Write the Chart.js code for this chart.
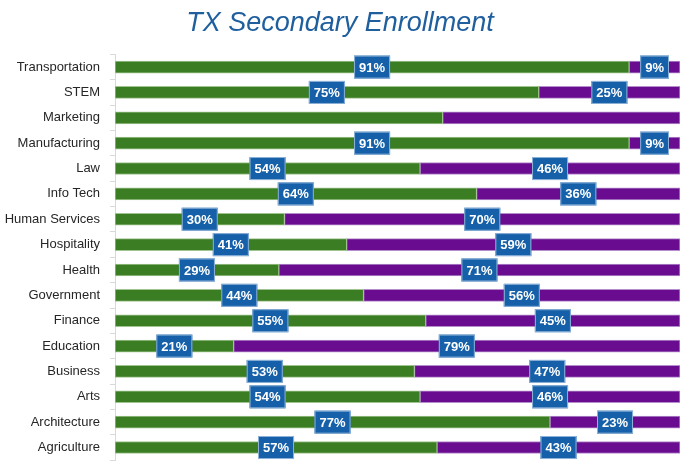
<!DOCTYPE html>
<html>
<head>
<meta charset="utf-8">
<script src="https://cdn.jsdelivr.net/npm/chart.js@4"></script>
<style>
  html, body { margin: 0; padding: 0; background: #fff; }
  #wrap { width: 680px; height: 461px; overflow: hidden; }
  canvas { display: block; }
</style>
</head>
<body>
<div id="wrap"><canvas id="enrollChart" width="680" height="478"></canvas></div>
<script>
const categories = ["Transportation", "STEM", "Marketing", "Manufacturing", "Law", "Info Tech",
    "Human Services", "Hospitality", "Health", "Government", "Finance", "Education",
    "Business", "Arts", "Architecture", "Agriculture"];
const greenValues = [91, 75, 58, 91, 54, 64, 30, 41, 29, 44, 55, 21, 53, 54, 77, 57];
const purpleValues = [9, 25, 42, 9, 46, 36, 70, 59, 71, 56, 45, 79, 47, 46, 23, 43];
const unlabeled = ["Marketing"];

/* ---------- Boxed value labels ---------- */
const boxLabels = {
    id: "boxLabels",
    afterDatasetsDraw(chart) {
        const ctx = chart.ctx;
        ctx.save();
        ctx.font = "bold 13px 'Liberation Sans', Arial, sans-serif";
        ctx.textAlign = "center";
        ctx.textBaseline = "middle";
        chart.data.datasets.forEach((ds, di) => {
            const meta = chart.getDatasetMeta(di);
            meta.data.forEach((bar, i) => {
                if (unlabeled.includes(categories[i])) return;
                const text = ds.data[i] + "%";
                const cx = (bar.x + bar.base) / 2;
                const cy = bar.y;
                const w = ctx.measureText(text).width + 10;
                const h = 23;
                ctx.fillStyle = "#1560a8";
                ctx.fillRect(cx - w / 2, cy - h / 2, w, h);
                ctx.strokeStyle = "#8fb3d9";
                ctx.lineWidth = 1;
                ctx.strokeRect(cx - w / 2 + 0.5, cy - h / 2 + 0.5, w - 1, h - 1);
                ctx.fillStyle = "#ffffff";
                ctx.fillText(text, cx, cy + 1);
            });
        });
        ctx.restore();
    }
};

new Chart(document.getElementById("enrollChart"), {
    type: "bar",
    data: {
        labels: categories,
        datasets: [{
            label: "Green",
            data: greenValues,
            backgroundColor: "#3b7d23",
            borderColor: "#9fc48f",
            borderWidth: 1,
            borderSkipped: false,
            barThickness: 12
        }, {
            label: "Purple",
            data: purpleValues,
            backgroundColor: "#6a0c8f",
            borderColor: "#b48fcc",
            borderWidth: 1,
            borderSkipped: false,
            barThickness: 12
        }]
    },
    options: {
        indexAxis: "y",
        responsive: false,
        animation: false,
        layout: { autoPadding: false, padding: 0 },
        plugins: {
            legend: { display: false },
            tooltip: { enabled: false },
            title: {
                display: true,
                text: "TX Secondary Enrollment",
                color: "#1f5f9e",
                font: { family: "'Liberation Sans', Arial, sans-serif", size: 27, style: "italic", weight: "normal" },
                padding: { top: 7, bottom: 15 }
            }
        },
        scales: {
            x: {
                display: false,
                stacked: true,
                min: 0,
                max: 100
            },
            y: {
                stacked: true,
                grid: {
                    offset: true,
                    drawOnChartArea: false,
                    drawTicks: true,
                    tickLength: 5,
                    color: "#d9d9d9"
                },
                border: { color: "#d9d9d9" },
                ticks: {
                    color: "#262626",
                    font: { family: "'Liberation Sans', Arial, sans-serif", size: 13 },
                    padding: 10
                },
                afterFit(scale) { scale.width = 115; }
            }
        }
    },
    plugins: [boxLabels]
});
</script>
</body>
</html>
